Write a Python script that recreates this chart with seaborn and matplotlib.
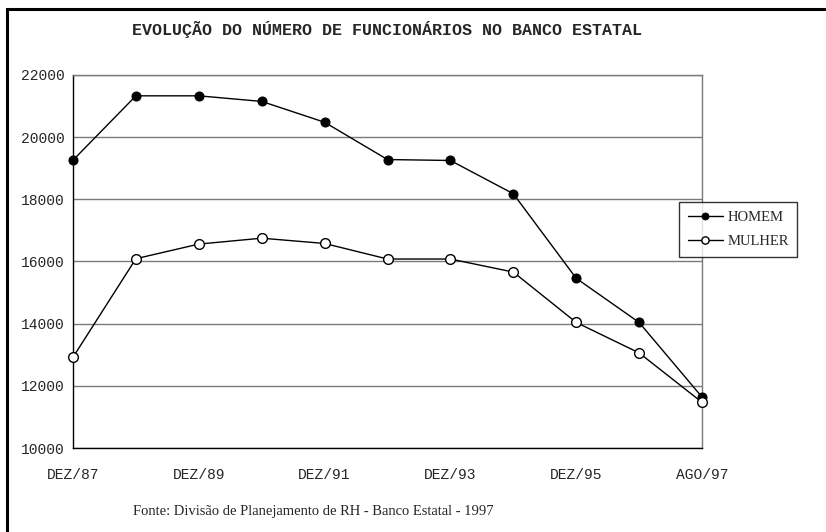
import matplotlib
matplotlib.use("Agg")
import matplotlib.pyplot as plt
import seaborn as sns
import pandas as pd
from matplotlib.patches import Rectangle

periodos = ["DEZ/87", "DEZ/88", "DEZ/89", "DEZ/90", "DEZ/91", "DEZ/92",
            "DEZ/93", "DEZ/94", "DEZ/95", "DEZ/96", "AGO/97"]
homem = [19260, 21330, 21330, 21150, 20480, 19280, 19250, 18180, 15460, 14040, 11640]
mulher = [12920, 16090, 16560, 16750, 16580, 16080, 16080, 15660, 14040, 13060, 11470]
rotulos_x = ["DEZ/87", "", "DEZ/89", "", "DEZ/91", "", "DEZ/93", "", "DEZ/95", "", "AGO/97"]
rotulos_y = [10000, 12000, 14000, 16000, 18000, 20000, 22000]

df = pd.DataFrame({"pos": range(len(periodos)), "periodo": periodos,
                   "HOMEM": homem, "MULHER": mulher})

sns.set_style("white")
plt.rcParams["font.family"] = ["Liberation Serif", "DejaVu Serif"]

fig = plt.figure(figsize=(8.26, 5.32), dpi=100)
ax = fig.add_axes([73 / 826, 1 - 448 / 532, (702 - 73) / 826, (448 - 75) / 532])

sns.lineplot(data=df, x="pos", y="HOMEM", ax=ax, color="black", lw=1,
             marker="o", markersize=6.5, markerfacecolor="black",
             markeredgecolor="black", label="HOMEM", zorder=3, clip_on=False)
sns.lineplot(data=df, x="pos", y="MULHER", ax=ax, color="black", lw=1,
             marker="o", markersize=7, markerfacecolor="white",
             markeredgecolor="black", markeredgewidth=1, label="MULHER", zorder=3,
             clip_on=False)

ax.set_xlim(0, len(periodos) - 1)
ax.set_ylim(10000, 22000)
ax.set_xticks(df["pos"])
ax.set_xticklabels(rotulos_x, family="Liberation Mono", fontsize=10.5)
ax.set_yticks(rotulos_y)
ax.set_yticklabels([str(v) for v in rotulos_y], family="Liberation Mono", fontsize=10.5)
ax.set_xlabel("")
ax.set_ylabel("")
ax.yaxis.grid(True, color="#7a7a7a", lw=1)
ax.set_axisbelow(True)
ax.tick_params(axis="x", direction="inout", length=9, width=1, color="black", pad=10)
ax.tick_params(axis="y", direction="out", length=5, width=1, color="black", pad=1)
ax.spines["left"].set_color("black")
ax.spines["bottom"].set_color("black")
ax.spines["top"].set_color("#7a7a7a")
ax.spines["right"].set_color("#7a7a7a")
for s in ax.spines.values():
    s.set_linewidth(1)
    s.set_visible(True)

ax.get_legend().remove()
h, l = ax.get_legend_handles_labels()
leg = fig.legend(h, l, loc="upper left", bbox_to_anchor=(679 / 826, 1 - 202 / 532),
                 frameon=True, fancybox=False, edgecolor="black", fontsize=10.5,
                 handlelength=2.4, handletextpad=0.3, borderpad=0.6,
                 labelspacing=0.75, borderaxespad=0, markerscale=0.75)
leg.get_frame().set_linewidth(1)

fig.text(387 / 826, 1 - 30 / 532, "EVOLUÇÃO DO NÚMERO DE FUNCIONÁRIOS NO BANCO ESTATAL",
         ha="center", va="center", family="Liberation Mono", fontweight="bold", fontsize=12)
fig.text(313 / 826, 1 - 512 / 532, "Fonte: Divisão de Planejamento de RH - Banco Estatal - 1997",
         ha="center", va="center", fontsize=10.5)

fig.patches.append(Rectangle((7 / 826, -0.1), 1.2, 1 - 9 / 532 + 0.1, transform=fig.transFigure,
                             fill=False, edgecolor="black", lw=2.2))

fig.savefig("out.png", dpi=100)
